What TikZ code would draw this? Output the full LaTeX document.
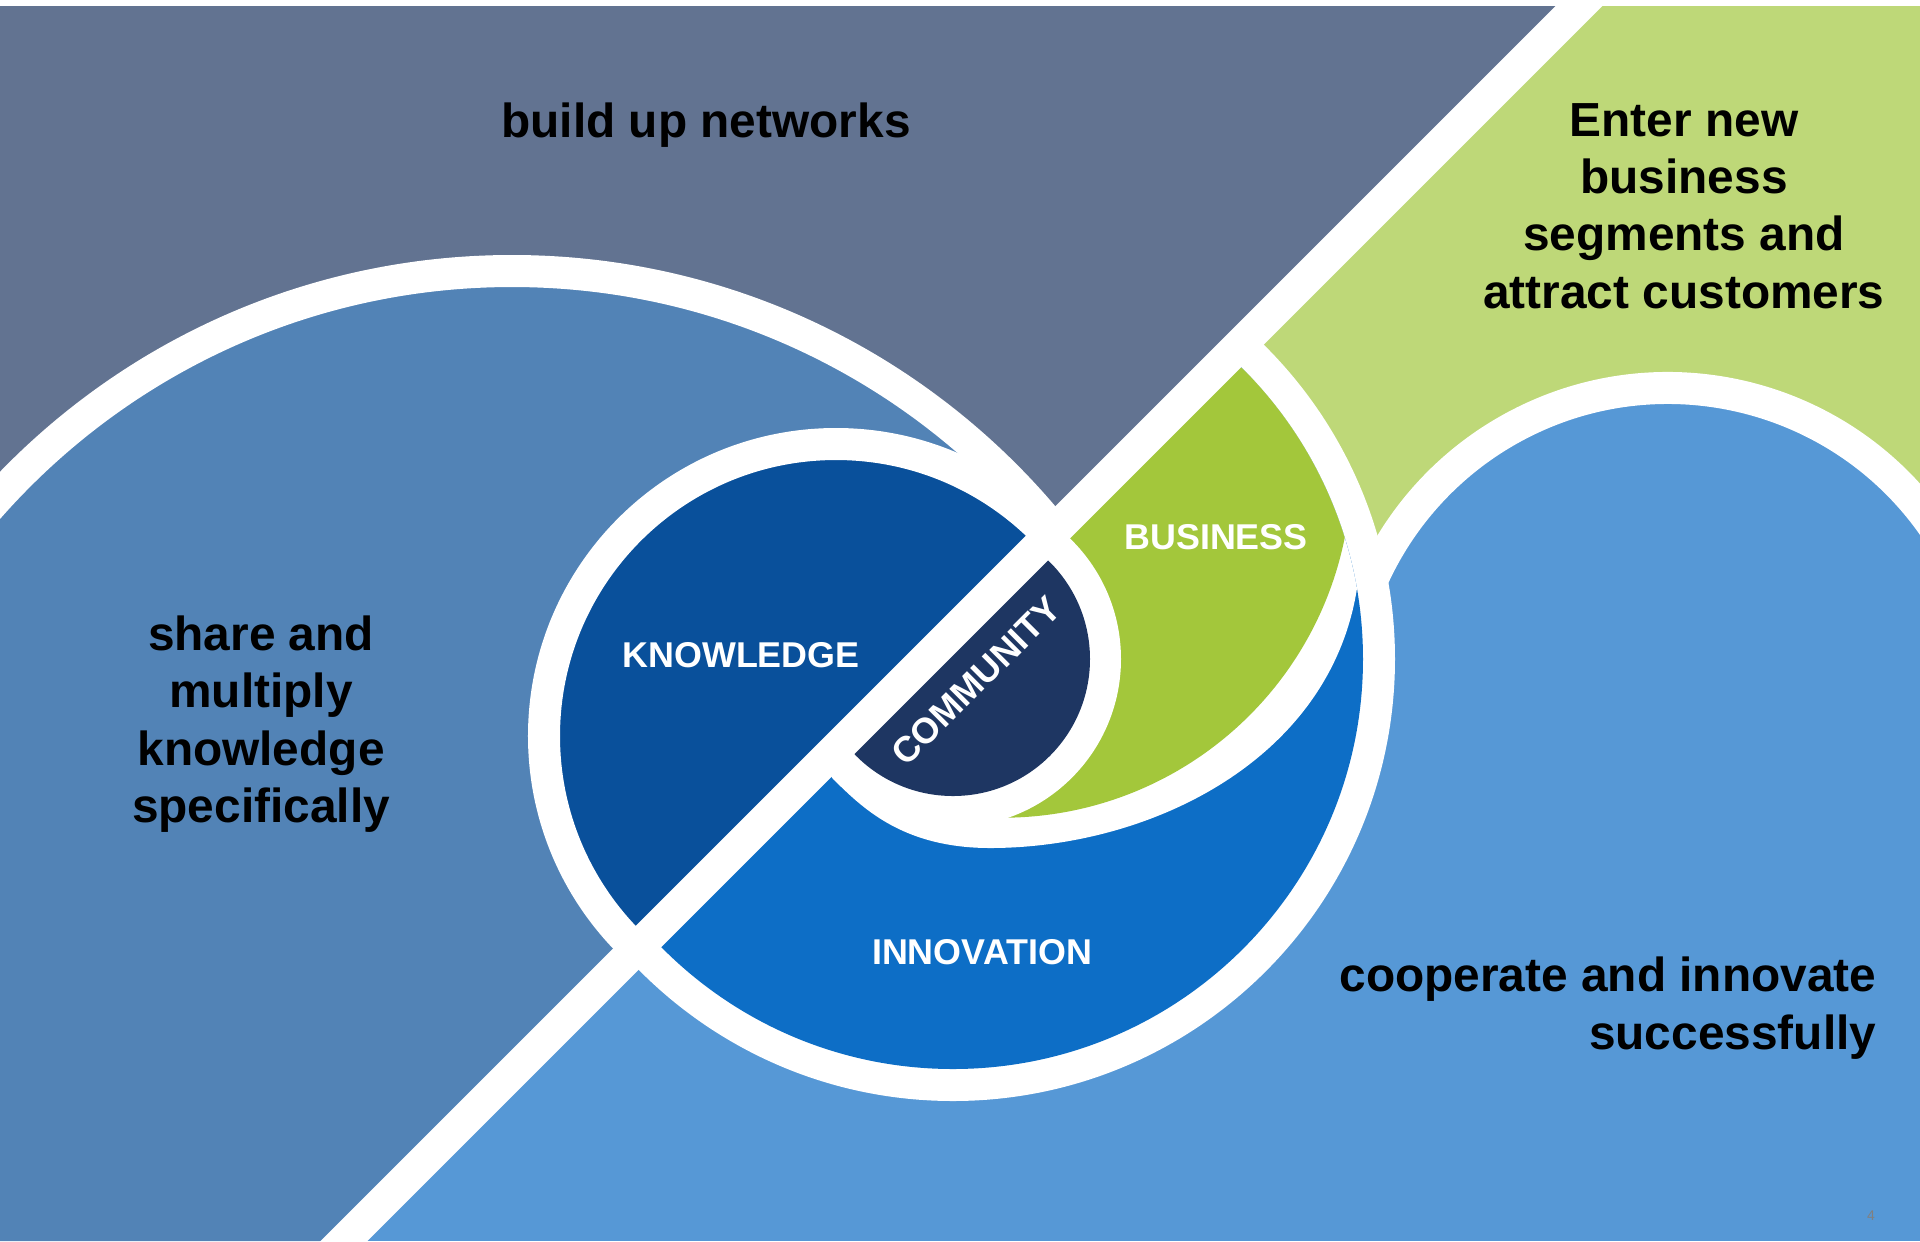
\documentclass[tikz,border=0pt]{standalone}
\usepackage{fontspec}
\setmainfont{Liberation Sans}
\definecolor{slate}{HTML}{627391}
\definecolor{steel}{HTML}{5283B6}
\definecolor{palegreen}{HTML}{BED878}
\definecolor{skyblue}{HTML}{5698D6}
\definecolor{knowblue}{HTML}{09509B}
\definecolor{innoblue}{HTML}{0D6EC6}
\definecolor{bizgreen}{HTML}{A3C73B}
\definecolor{commnavy}{HTML}{1E3662}

\begin{document}
\begin{tikzpicture}[
        x=0.01cm, y=-0.01cm,
        ring/.style={draw=white, line width=0.32cm},
        band/.style={draw=white, line width=0.33cm},
        claim/.style={font=\bfseries\fontsize{13.6}{16.3}\selectfont, align=center, inner sep=0pt},
        field/.style={font=\bfseries\fontsize{10.2}{12}\selectfont, text=white, inner sep=0pt}
    ]

    \useasboundingbox (0,0) rectangle (1920,1241);
    \fill[white] (0,0) rectangle (1920,1241);

    % --- Left of the diagonal ---
    \begin{scope}
        \clip (0,6) -- (1579,6) -- (344,1241) -- (0,1241) -- cycle;
        \fill[slate] (0,6) rectangle (1920,1241);
        \fill[steel] (512,968) circle[radius=697];
        \draw[ring] (512,968) circle[radius=697];
        % Knowledge
        \fill[knowblue] (836,736) circle[radius=292];
        \draw[ring] (836,736) circle[radius=292];
    \end{scope}

    % --- Right of the diagonal ---
    \begin{scope}
        \clip (1579,6) -- (1920,6) -- (1920,1241) -- (344,1241) -- cycle;
        \fill[palegreen] (0,6) rectangle (1920,1241);
        \fill[skyblue] (0,712) rectangle (1920,1241);
        \fill[skyblue] (1668,712) circle[radius=324];
        \draw[ring] (1668,712) ++(-30:324) arc[start angle=-30, end angle=-165, radius=324];

        % Innovation
        \fill[white] (953,659) circle[radius=442];
        \fill[innoblue] (953,659) circle[radius=410];
        \fill[white] (1243,369) arc[start angle=-45, end angle=-9.9, radius=410]
            .. controls (1330,760) and (1150,848) .. (990,848)
            .. controls (900,848) and (860,805) .. (833,779)
            -- (810,745) -- (1210,345) -- cycle;

        % Business
        \fill[bizgreen] (1243,369) arc[start angle=-45, end angle=-17.2, radius=410]
            arc[start angle=11.4, end angle=89.3, radius=349]
            -- (953,659) -- (900,640) -- (1210,345) -- cycle;

        % Community
        \fill[white] (953,659) circle[radius=168];
        \fill[commnavy] (953,659) circle[radius=137];
    \end{scope}

    % --- Diagonal band ---
    \draw[band] (1635,-50) -- (294,1291);
    \fill[white] (0,0) rectangle (1920,6);

    % --- Texts ---
    \node[claim] (networks) at (706,125) {build up networks};
    \node[claim] (market) at (1684,206) {Enter new\\business\\segments and\\attract customers};
    \node[claim] (share) at (261,724) {share and\\multiply\\knowledge\\specifically};
    \node[claim, align=right, anchor=east] (cooperate) at (1877,1008) {cooperate and innovate\\successfully};

    \node[field] (knowledge) at (741,655) {KNOWLEDGE};
    \node[field] (innovation) at (982,952) {INNOVATION};
    \node[field] (business) at (1216,537) {BUSINESS};
    \node[field, rotate=45] (community) at (976,681) {COMMUNITY};

    \node[font=\fontsize{4}{5}\selectfont, text=gray, inner sep=0pt] (pagenum) at (1871,1216) {4};

\end{tikzpicture}
\end{document}
